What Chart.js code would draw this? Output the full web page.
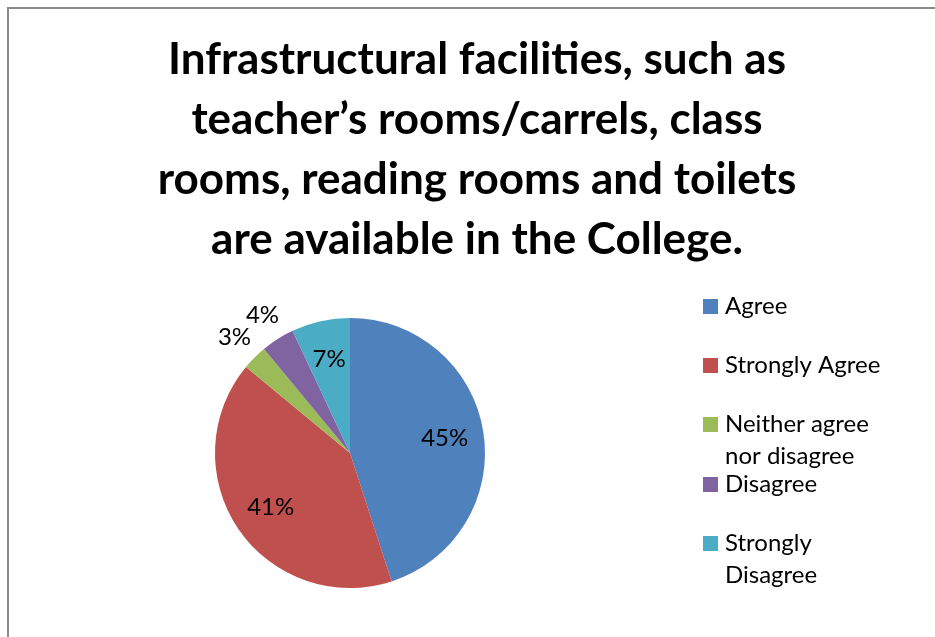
<!DOCTYPE html>
<html>
<head>
<meta charset="utf-8">
<script src="https://cdn.jsdelivr.net/npm/chart.js@4"></script>
<style>
  html, body { margin: 0; padding: 0; background: #fff; }
  #wrap { position: relative; width: 935px; height: 637px; }
  #frame { position: absolute; left: 7px; top: 7px; right: -2px; bottom: -2px; border: 2px solid #8a8a8a; border-right: none; border-bottom: none; }
</style>
</head>
<body>
<div id="wrap">
  <div id="frame"></div>
  <canvas id="pie" width="935" height="637"></canvas>
</div>
<script>
const titleLines = [
  "Infrastructural facilities, such as",
  "teacher\u2019s rooms/carrels, class",
  "rooms, reading rooms and toilets",
  "are available in the College."
];
const categories = ["Agree", "Strongly Agree", "Neither agree nor disagree", "Disagree", "Strongly Disagree"];
// legend text wraps like the original
const legendLines = [["Agree"], ["Strongly Agree"], ["Neither agree", "nor disagree"], ["Disagree"], ["Strongly", "Disagree"]];
const percents = [45, 41, 3, 4, 7];
const colors = ["#4F81BD", "#C0504D", "#9BBB59", "#8064A2", "#4BACC6"];

const FONT = "Lato, 'Open Sans', sans-serif";

// title, slice labels and legend drawn by hand
const decorPlugin = {
  id: "decor",
  afterDraw(chart) {
    const ctx = chart.ctx;
    ctx.save();
    ctx.fillStyle = "#000";
    ctx.textAlign = "center";
    ctx.textBaseline = "middle";
    ctx.font = "bold 44px " + FONT;
    titleLines.forEach((t, i) => ctx.fillText(t, 477, 60 + i * 60));

    // percent labels
    const arcs = chart.getDatasetMeta(0).data;
    ctx.font = "24px " + FONT;
    arcs.forEach((arc, i) => {
      const mid = (arc.startAngle + arc.endAngle) / 2;
      const r = percents[i] < 5 ? arc.outerRadius * 1.21 : arc.outerRadius * 0.71;
      ctx.fillText(percents[i] + "%", arc.x + Math.cos(mid) * r, arc.y + Math.sin(mid) * r);
    });

    // legend
    const legY = [306, 365, 424, 484, 543];
    ctx.textAlign = "left";
    legendLines.forEach((lines, i) => {
      ctx.fillStyle = colors[i];
      ctx.fillRect(703, legY[i] - 7, 15, 15);
      ctx.fillStyle = "#000";
      lines.forEach((l, j) => ctx.fillText(l, 725, legY[i] + j * 32));
    });
    ctx.restore();
  }
};

new Chart(document.getElementById("pie"), {
  type: "pie",
  data: {
    labels: categories,
    datasets: [{
      data: percents,
      backgroundColor: colors,
      borderWidth: 0
    }]
  },
  options: {
    responsive: false,
    animation: false,
    layout: { padding: { left: 215, right: 450, top: 318, bottom: 49 } },
    plugins: {
      legend: { display: false },
      tooltip: { enabled: false }
    }
  },
  plugins: [decorPlugin]
});
</script>
</body>
</html>
